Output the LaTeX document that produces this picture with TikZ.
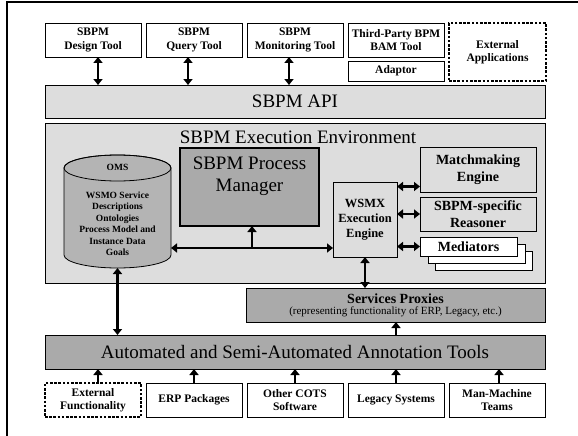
\documentclass[tikz,border=0pt]{standalone}
\usepackage{fontspec}
\setmainfont{Liberation Serif}
\usetikzlibrary{arrows.meta}

\definecolor{lightbar}{HTML}{DDDDDD}
\definecolor{darkbar}{HTML}{AAAAAA}
\definecolor{omsgray}{HTML}{B4B4B4}

\begin{document}
\begin{tikzpicture}[x=1pt,y=-1pt,
    every node/.style={inner sep=0pt, outer sep=0pt},
    box/.style={draw, line width=0.8pt, fill=white, anchor=north west, align=center,
        font=\bfseries\fontsize{11.5}{13.5}\selectfont},
    extbox/.style={box, line width=1.2pt, dash pattern=on 2.6pt off 1.6pt},
    bar/.style={draw, line width=0.8pt, anchor=north west, align=center,
        font=\fontsize{19}{22}\selectfont},
    compbox/.style={draw, line width=0.8pt, fill=lightbar, anchor=north west, align=center,
        font=\bfseries\fontsize{14}{16.5}\selectfont},
    medbox/.style={compbox, fill=white, minimum width=97, minimum height=19},
    link/.style={line width=2.6pt, -{Triangle[length=6pt,width=9pt]}},
    dlink/.style={line width=2.6pt, {Triangle[length=6pt,width=9pt]}-{Triangle[length=6pt,width=9pt]}}]
    \useasboundingbox (0,0) rectangle (578,436);
    \draw[line width=2.2pt] (7,437) -- (7,2) -- (579,2);
    % tools on top
    \node[box, minimum width=96, minimum height=34] (design) at (45,23) {SBPM\\Design Tool};
    \node[box, minimum width=96, minimum height=34] (query) at (146,23) {SBPM\\Query Tool};
    \node[box, minimum width=96, minimum height=34] (monitor) at (247,23) {SBPM\\Monitoring Tool};
    \node[box, minimum width=96, minimum height=34] (thirdparty) at (348,23) {Third-Party BPM\\BAM Tool};
    \node[box, minimum width=96, minimum height=20] (adaptor) at (348,61) {Adaptor};
    \node[extbox, minimum width=97, minimum height=58] (extapps) at (449,23) {External\\Applications};
    \node[bar, fill=lightbar, minimum width=500, minimum height=33] (api) at (45,85) {SBPM API};
    \draw[dlink] ([xshift=5pt]design.south) -- ([xshift=5pt]design.south |- api.north);
    \draw[dlink] ([xshift=-6pt]query.south) -- ([xshift=-6pt]query.south |- api.north);
    \draw[dlink] ([xshift=-6pt]monitor.south) -- ([xshift=-6pt]monitor.south |- api.north);
    % execution environment
    \node[bar, fill=lightbar, minimum width=500, minimum height=160] (env) at (45,123) {};
    \node[font=\fontsize{19}{22}\selectfont] (envtitle) at (298,137) {SBPM Execution Environment};
    \node[minimum width=107, minimum height=113] (oms) at (117.5,211.5) {};
    \draw[line width=0.8pt, fill=omsgray] (64,168) -- (64,255)
        arc[start angle=180, end angle=0, x radius=53.5, y radius=13] -- (171,168)
        arc[start angle=0, end angle=-180, x radius=53.5, y radius=13] -- cycle;
    \draw[line width=0.8pt] (117.5,168) ellipse[x radius=53.5, y radius=13];
    \node[align=center, font=\bfseries\fontsize{9.5}{11.5}\selectfont] (omstext) at (117.5,210)
        {OMS\\[16pt]WSMO Service\\Descriptions\\Ontologies\\Process Model and\\Instance Data\\Goals};
    \node[draw, line width=2pt, fill=darkbar, anchor=north west, minimum width=139, minimum height=78] (pm) at (180,148) {};
    \node[align=center, font=\fontsize{19}{22}\selectfont] (pmtext) at (249.5,176) {SBPM Process\\Manager};
    \node[compbox, font=\bfseries\fontsize{12.5}{15}\selectfont, minimum width=64, minimum height=75] (wsmx) at (333,182) {WSMX\\Execution\\Engine};
    \node[compbox, minimum width=116, minimum height=45] (match) at (420,147) {Matchmaking\\Engine};
    \node[compbox, minimum width=116, minimum height=34] (reasoner) at (420,197) {SBPM-specific\\Reasoner};
    \node[medbox] (med3) at (435,251) {};
    \node[medbox] (med2) at (428,244) {};
    \node[medbox] (med) at (420,237) {Mediators};
    \coordinate (mmin) at ([yshift=-17pt]match.west);
    \draw[dlink] (wsmx.east |- mmin) -- (mmin);
    \draw[dlink] (wsmx.east |- reasoner.west) -- (reasoner.west);
    \draw[dlink] (wsmx.east |- med.west) -- (med.west);
    \coordinate (jn) at (252,248);
    \draw[dlink] (oms.east |- jn) -- (wsmx.west |- jn);
    \draw[link] (jn) -- (pm.south -| jn);
    % proxies and annotation
    \node[draw, line width=0.8pt, fill=darkbar, anchor=north west, minimum width=299, minimum height=34, align=center] (proxies) at (246,288)
        {{\bfseries\fontsize{14}{16}\selectfont Services Proxies}\\[-1pt]{\fontsize{11}{13}\selectfont (representing functionality of ERP, Legacy, etc.)}};
    \draw[dlink] (wsmx.south) -- (wsmx.south |- proxies.north);
    \node[bar, fill=darkbar, minimum width=500, minimum height=34] (annot) at (45,335) {Automated and Semi-Automated Annotation Tools};
    \draw[dlink] (oms.south) -- (oms.south |- annot.north);
    % sources at the bottom
    \node[extbox, minimum width=96, minimum height=34] (extfunc) at (45,383) {External\\Functionality};
    \node[box, minimum width=96, minimum height=34] (erp) at (146,383) {ERP Packages};
    \node[box, minimum width=96, minimum height=34] (cots) at (247,383) {Other COTS\\Software};
    \node[box, minimum width=96, minimum height=34] (legacy) at (348,383) {Legacy Systems};
    \node[box, minimum width=96, minimum height=34] (manmachine) at (449,383) {Man-Machine\\Teams};
    \draw[link] ([xshift=5pt]extfunc.north) -- ([xshift=5pt]extfunc.north |- annot.south);
    \draw[link] (erp.north) -- (erp.north |- annot.south);
    \draw[link] (cots.north) -- (cots.north |- annot.south);
    \draw[link] (legacy.north) -- (legacy.north |- annot.south);
    \draw[link] ([xshift=2pt]manmachine.north) -- ([xshift=2pt]manmachine.north |- annot.south);
    \draw[link] (annot.north -| legacy.north) -- (proxies.south -| legacy.north);
\end{tikzpicture}
\end{document}
